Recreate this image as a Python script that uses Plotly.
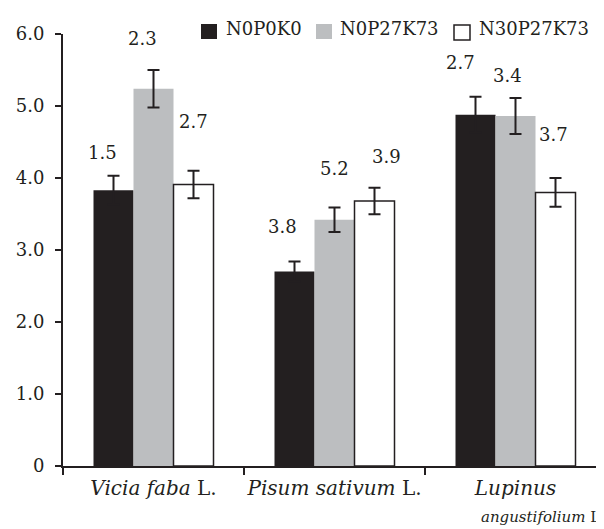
import plotly.graph_objects as go

# ---- data ----
categories = ["Vicia", "Pisum", "Lupinus"]
series_names = ["N0P0K0", "N0P27K73", "N30P27K73"]
n0p0k0 = [3.83, 2.70, 4.88]
n0p27k73 = [5.24, 3.42, 4.86]
n30p27k73 = [3.91, 3.68, 3.80]
err_n0p0k0 = [0.20, 0.14, 0.25]
err_n0p27k73 = [0.26, 0.17, 0.25]
err_n30p27k73 = [0.19, 0.185, 0.20]
# numbers printed above the bars (per series, per category)
labels_n0p0k0 = ["1.5", "3.8", "2.7"]
labels_n0p27k73 = ["2.3", "5.2", "3.4"]
labels_n30p27k73 = ["2.7", "3.9", "3.7"]
tick_vals = [0, 1, 2, 3, 4, 5, 6]
tick_text = ["0", "1.0", "2.0", "3.0", "4.0", "5.0", "6.0"]
x_tick_text = ["<i>Vicia faba</i> L.", "<i>Pisum sativum</i> L.", "<i>Lupinus</i>"]
x_second_line = "<i>angustifolium</i> L."

# ---- styles ----
INK = "#231f20"
FONT = "DejaVu Serif"
colors = ["#231f20", "#bcbec0", "#ffffff"]
line_widths = [0, 0, 1.5]

values = [n0p0k0, n0p27k73, n30p27k73]
errors = [err_n0p0k0, err_n0p27k73, err_n30p27k73]
labels = [labels_n0p0k0, labels_n0p27k73, labels_n30p27k73]

# page offset of the figure (browser body margin)
OFF = 8
W, H = 604, 529
ML, MR, MT = 63 - OFF, 0, 34 - OFF
MB = H - (466.5 - OFF)
PW, PH = W - ML - MR, H - MT - MB
CAT_PX = 181.0
X_END = -0.5 + PW / CAT_PX


def px(xp):  # page x -> paper
    return (xp - OFF - ML) / PW


def py(yp):  # page y -> paper
    return (H - MB - (yp - OFF)) / PH


fig = go.Figure()
for name, vals, errs, col, lw in zip(series_names, values, errors, colors, line_widths):
    fig.add_trace(go.Bar(
        x=categories, y=vals, name=name, showlegend=False,
        marker=dict(color=col, line=dict(color=INK, width=lw)),
        error_y=dict(type="data", array=errs, visible=True,
                     color=INK, thickness=2, width=6),
    ))

# label placement (layout only): pixel x-shift and y height per label
label_xshift = [[-51, -52, -55], [-11, 0, -8], [40, 52, 38]]
label_y = [[4.36, 3.33, 5.61], [5.94, 4.13, 5.43], [4.79, 4.30, 4.60]]
for s in range(3):
    for c in range(3):
        fig.add_annotation(
            x=categories[c], y=label_y[s][c], text=labels[s][c],
            xshift=label_xshift[s][c], showarrow=False,
            font=dict(family=FONT, size=18, color=INK),
            xanchor="center", yanchor="middle",
        )

fig.add_annotation(
    x=categories[2], y=0, yref="y", text=x_second_line, showarrow=False,
    xanchor="left", yanchor="top", xshift=-37, yshift=-40,
    font=dict(family=FONT, size=15, color=INK),
)

# manual legend (layout)
legend_sq_x = [201, 316, 454]
legend_sq_y = [24, 24, 25]
legend_txt_x = [224, 338, 477]
for name, col, lw, sx, sy, tx in zip(series_names, colors, line_widths,
                                      legend_sq_x, legend_sq_y, legend_txt_x):
    fig.add_shape(type="rect", xref="paper", yref="paper",
                  x0=px(sx), x1=px(sx + 16), y0=py(sy + 15), y1=py(sy),
                  fillcolor=col, line=dict(color=INK, width=lw if lw else 0))
    fig.add_annotation(xref="paper", yref="paper", x=px(tx), y=py(28),
                       text=name, showarrow=False, xanchor="left", yanchor="middle",
                       font=dict(family=FONT, size=18, color=INK))

fig.update_layout(
    width=W, height=H,
    margin=dict(l=ML, r=MR, t=MT, b=MB, autoexpand=False),
    paper_bgcolor="white", plot_bgcolor="white",
    barmode="group", bargap=0.337, bargroupgap=0,
    showlegend=False,
    font=dict(family=FONT, color=INK),
)
fig.update_xaxes(
    range=[-0.5, X_END], showline=True, linecolor=INK, linewidth=2,
    ticks="outside", tickson="boundaries", ticklen=7, tickwidth=2, tickcolor=INK,
    tickvals=categories, ticktext=x_tick_text, tickangle=0, automargin=False,
    ticklabelstandoff=3,
    tickfont=dict(family=FONT, size=20, color=INK),
    showgrid=False, zeroline=False,
)
fig.update_yaxes(
    range=[0, 6], showline=True, linecolor=INK, linewidth=2,
    ticks="outside", ticklen=6, tickwidth=2, tickcolor=INK,
    tickvals=tick_vals, ticktext=tick_text, ticklabelstandoff=7, automargin=False,
    tickfont=dict(family=FONT, size=18, color=INK),
    showgrid=False, zeroline=False,
)

fig.write_html("out.html")
